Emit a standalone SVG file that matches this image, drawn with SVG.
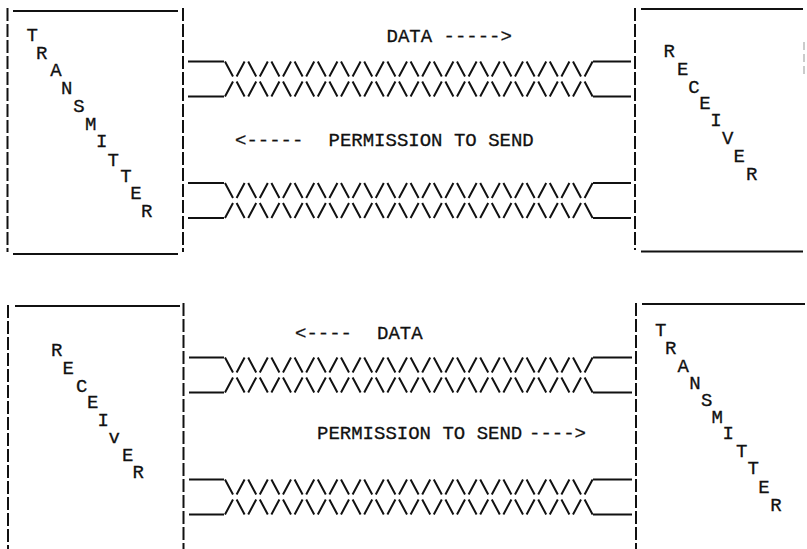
<svg xmlns="http://www.w3.org/2000/svg" width="807" height="549" viewBox="0 0 807 549">
<style>
.edge{stroke:#111;stroke-width:2;fill:none;stroke-dasharray:13 3}
.rule{stroke:#111;stroke-width:2;fill:none}
.faint{stroke:#bbb;stroke-width:1.5;fill:none;stroke-dasharray:8 4}
.wire{stroke:#111;stroke-width:2;fill:none;stroke-linecap:butt}
.t,.l{font-family:"Liberation Mono","DejaVu Sans Mono",monospace;font-size:19px;fill:#111;stroke:#111;stroke-width:0.3}
.l{text-anchor:middle}
</style>
<rect width="807" height="549" fill="#fff"/>

<g id="transmitter-top">
<path class="edge" d="M7.5,8V252M183,8V252"/>
<path class="rule" d="M13,11H178M13,254H178"/>
<text class="l" x="32.3" y="40.7">T</text>
<text class="l" x="41.7" y="59.3">R</text>
<text class="l" x="56" y="76">A</text>
<text class="l" x="66.7" y="94.3">N</text>
<text class="l" x="79" y="111.7">S</text>
<text class="l" x="90.7" y="130">M</text>
<text class="l" x="101.7" y="146.7">I</text>
<text class="l" x="113.3" y="165.7">T</text>
<text class="l" x="126" y="181.7">T</text>
<text class="l" x="136" y="199.3">E</text>
<text class="l" x="146.7" y="216.7">R</text>
</g>

<g id="receiver-top">
<path class="edge" d="M635,8V250"/>
<path class="rule" d="M641,9H803M641,251.5H803"/>
<path class="faint" d="M804,42V75"/>
<text class="l" x="669.3" y="56.7">R</text>
<text class="l" x="682.7" y="75">E</text>
<text class="l" x="694" y="92.7">C</text>
<text class="l" x="705" y="109.3">E</text>
<text class="l" x="716" y="126">I</text>
<text class="l" x="727.7" y="144">V</text>
<text class="l" x="739.3" y="162.3">E</text>
<text class="l" x="751.7" y="180">R</text>
</g>

<g id="receiver-bottom">
<path class="edge" d="M8,305V549M183.5,303V549"/>
<path class="rule" d="M15,306H180"/>
<text class="l" x="56.7" y="356">R</text>
<text class="l" x="68.3" y="374">E</text>
<text class="l" x="81.7" y="391.7">C</text>
<text class="l" x="92.7" y="408.3">E</text>
<text class="l" x="103.3" y="425.7">I</text>
<text class="l" x="114.3" y="442.7">v</text>
<text class="l" x="127.7" y="460.7">E</text>
<text class="l" x="138.3" y="478.3">R</text>
</g>

<g id="transmitter-bottom">
<path class="edge" d="M636,303V549"/>
<path class="rule" d="M642,304H805"/>
<text class="l" x="660.7" y="336">T</text>
<text class="l" x="670.7" y="354">R</text>
<text class="l" x="683.3" y="371.7">A</text>
<text class="l" x="695" y="389">N</text>
<text class="l" x="706.7" y="405.7">S</text>
<text class="l" x="717.3" y="422.7">M</text>
<text class="l" x="728.3" y="439.3">I</text>
<text class="l" x="741.7" y="456.7">T</text>
<text class="l" x="753.3" y="474">T</text>
<text class="l" x="764" y="493.3">E</text>
<text class="l" x="776" y="510.7">R</text>
</g>

<g id="connectors">
<path class="wire" d="M188,61.5H224M188,96.5H224M593,61.5H631M593,96.5H631
M225,61.5
l8 15m3.6 0l8-15m3.6 0l8 15m3.6 0l8-15m3.6 0l8 15m3.6 0l8-15m3.6 0l8 15m3.6 0l8-15m3.6 0
l8 15m3.6 0l8-15m3.6 0l8 15m3.6 0l8-15m3.6 0l8 15m3.6 0l8-15m3.6 0l8 15m3.6 0l8-15m3.6 0
l8 15m3.6 0l8-15m3.6 0l8 15m3.6 0l8-15m3.6 0l8 15m3.6 0l8-15m3.6 0l8 15m3.6 0l8-15m3.6 0
l8 15m3.6 0l8-15m3.6 0l8 15m3.6 0l8-15m3.6 0l8 15m3.6 0l8-15m3.6 0l8 15m3.6 0l8-15m3.6 0
M225,96.5
l8-15m3.6 0l8 15m3.6 0l8-15m3.6 0l8 15m3.6 0l8-15m3.6 0l8 15m3.6 0l8-15m3.6 0l8 15m3.6 0
l8-15m3.6 0l8 15m3.6 0l8-15m3.6 0l8 15m3.6 0l8-15m3.6 0l8 15m3.6 0l8-15m3.6 0l8 15m3.6 0
l8-15m3.6 0l8 15m3.6 0l8-15m3.6 0l8 15m3.6 0l8-15m3.6 0l8 15m3.6 0l8-15m3.6 0l8 15m3.6 0
l8-15m3.6 0l8 15m3.6 0l8-15m3.6 0l8 15m3.6 0l8-15m3.6 0l8 15m3.6 0l8-15m3.6 0l8 15m3.6 0"/>
<path class="wire" d="M188,183H224M188,218H224M593,183H631M593,218H631
M225,183
l8 15m3.6 0l8-15m3.6 0l8 15m3.6 0l8-15m3.6 0l8 15m3.6 0l8-15m3.6 0l8 15m3.6 0l8-15m3.6 0
l8 15m3.6 0l8-15m3.6 0l8 15m3.6 0l8-15m3.6 0l8 15m3.6 0l8-15m3.6 0l8 15m3.6 0l8-15m3.6 0
l8 15m3.6 0l8-15m3.6 0l8 15m3.6 0l8-15m3.6 0l8 15m3.6 0l8-15m3.6 0l8 15m3.6 0l8-15m3.6 0
l8 15m3.6 0l8-15m3.6 0l8 15m3.6 0l8-15m3.6 0l8 15m3.6 0l8-15m3.6 0l8 15m3.6 0l8-15m3.6 0
M225,218
l8-15m3.6 0l8 15m3.6 0l8-15m3.6 0l8 15m3.6 0l8-15m3.6 0l8 15m3.6 0l8-15m3.6 0l8 15m3.6 0
l8-15m3.6 0l8 15m3.6 0l8-15m3.6 0l8 15m3.6 0l8-15m3.6 0l8 15m3.6 0l8-15m3.6 0l8 15m3.6 0
l8-15m3.6 0l8 15m3.6 0l8-15m3.6 0l8 15m3.6 0l8-15m3.6 0l8 15m3.6 0l8-15m3.6 0l8 15m3.6 0
l8-15m3.6 0l8 15m3.6 0l8-15m3.6 0l8 15m3.6 0l8-15m3.6 0l8 15m3.6 0l8-15m3.6 0l8 15m3.6 0"/>
<path class="wire" d="M189,357.5H224M189,392.5H224M593,357.5H632M593,392.5H632
M225,357.5
l8 15m3.6 0l8-15m3.6 0l8 15m3.6 0l8-15m3.6 0l8 15m3.6 0l8-15m3.6 0l8 15m3.6 0l8-15m3.6 0
l8 15m3.6 0l8-15m3.6 0l8 15m3.6 0l8-15m3.6 0l8 15m3.6 0l8-15m3.6 0l8 15m3.6 0l8-15m3.6 0
l8 15m3.6 0l8-15m3.6 0l8 15m3.6 0l8-15m3.6 0l8 15m3.6 0l8-15m3.6 0l8 15m3.6 0l8-15m3.6 0
l8 15m3.6 0l8-15m3.6 0l8 15m3.6 0l8-15m3.6 0l8 15m3.6 0l8-15m3.6 0l8 15m3.6 0l8-15m3.6 0
M225,392.5
l8-15m3.6 0l8 15m3.6 0l8-15m3.6 0l8 15m3.6 0l8-15m3.6 0l8 15m3.6 0l8-15m3.6 0l8 15m3.6 0
l8-15m3.6 0l8 15m3.6 0l8-15m3.6 0l8 15m3.6 0l8-15m3.6 0l8 15m3.6 0l8-15m3.6 0l8 15m3.6 0
l8-15m3.6 0l8 15m3.6 0l8-15m3.6 0l8 15m3.6 0l8-15m3.6 0l8 15m3.6 0l8-15m3.6 0l8 15m3.6 0
l8-15m3.6 0l8 15m3.6 0l8-15m3.6 0l8 15m3.6 0l8-15m3.6 0l8 15m3.6 0l8-15m3.6 0l8 15m3.6 0"/>
<path class="wire" d="M189,479.5H224M189,514.5H224M593,479.5H632M593,514.5H632
M225,479.5
l8 15m3.6 0l8-15m3.6 0l8 15m3.6 0l8-15m3.6 0l8 15m3.6 0l8-15m3.6 0l8 15m3.6 0l8-15m3.6 0
l8 15m3.6 0l8-15m3.6 0l8 15m3.6 0l8-15m3.6 0l8 15m3.6 0l8-15m3.6 0l8 15m3.6 0l8-15m3.6 0
l8 15m3.6 0l8-15m3.6 0l8 15m3.6 0l8-15m3.6 0l8 15m3.6 0l8-15m3.6 0l8 15m3.6 0l8-15m3.6 0
l8 15m3.6 0l8-15m3.6 0l8 15m3.6 0l8-15m3.6 0l8 15m3.6 0l8-15m3.6 0l8 15m3.6 0l8-15m3.6 0
M225,514.5
l8-15m3.6 0l8 15m3.6 0l8-15m3.6 0l8 15m3.6 0l8-15m3.6 0l8 15m3.6 0l8-15m3.6 0l8 15m3.6 0
l8-15m3.6 0l8 15m3.6 0l8-15m3.6 0l8 15m3.6 0l8-15m3.6 0l8 15m3.6 0l8-15m3.6 0l8 15m3.6 0
l8-15m3.6 0l8 15m3.6 0l8-15m3.6 0l8 15m3.6 0l8-15m3.6 0l8 15m3.6 0l8-15m3.6 0l8 15m3.6 0
l8-15m3.6 0l8 15m3.6 0l8-15m3.6 0l8 15m3.6 0l8-15m3.6 0l8 15m3.6 0l8-15m3.6 0l8 15m3.6 0"/>
</g>

<g id="labels">
<text class="t" x="386.5" y="41.5" xml:space="preserve">DATA -----&gt;</text>
<text class="t" x="235" y="146">&lt;-----</text>
<text class="t" x="328.5" y="146">PERMISSION TO SEND</text>
<text class="t" x="295" y="339">&lt;----</text>
<text class="t" x="377" y="339">DATA</text>
<text class="t" x="317" y="439">PERMISSION TO SEND</text>
<text class="t" x="529" y="439">----&gt;</text>
</g>
</svg>
